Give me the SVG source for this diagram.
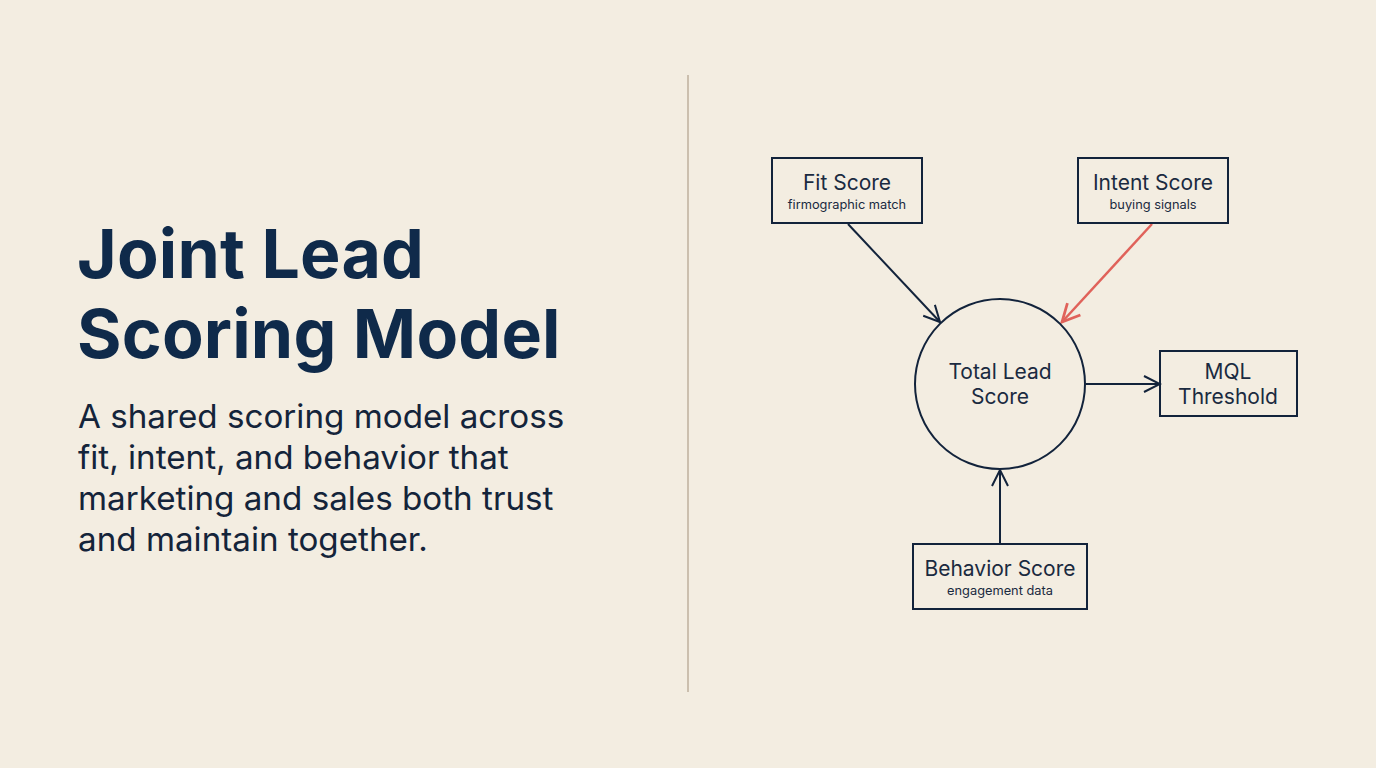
<svg xmlns="http://www.w3.org/2000/svg" width="1376" height="768" viewBox="0 0 1376 768">
<defs>
<style>
.title{font-family:Inter,"Noto Sans",sans-serif;font-weight:700;font-size:68px;fill:#0f2a4a;letter-spacing:0.2px}
.body{font-family:Inter,"Noto Sans",sans-serif;font-size:33.2px;fill:#14243a}
.box{fill:none;stroke:#12233b;stroke-width:2}
.lbl{font-family:Inter,"Noto Sans",sans-serif;font-size:21px;fill:#1a2a40;text-anchor:middle}
.sub{font-family:Inter,"Noto Sans",sans-serif;font-size:12.8px;fill:#1a2a40;text-anchor:middle}
.conn{fill:none;stroke:#12233b;stroke-width:2}
.red{stroke:#e0625a;stroke-width:2.5}
</style>
<marker id="ah" viewBox="0 0 20 20" refX="18" refY="10" markerWidth="20" markerHeight="20" markerUnits="userSpaceOnUse" orient="auto">
<path d="M2,2 L18,10 L2,18" fill="none" stroke="#12233b" stroke-width="2"/>
</marker>
<marker id="ahr" viewBox="0 0 20 20" refX="18" refY="10" markerWidth="22" markerHeight="22" markerUnits="userSpaceOnUse" orient="auto">
<path d="M2,2 L18,10 L2,18" fill="none" stroke="#e0625a" stroke-width="2.5"/>
</marker>
</defs>
<rect width="1376" height="768" fill="#f3ede1"/>
<line x1="688" y1="75" x2="688" y2="692" stroke="#cbbfae" stroke-width="2"/>
<g id="title">
<text class="title" x="77" y="278">Joint Lead</text>
<text class="title" x="77" y="358">Scoring Model</text>
</g>
<g id="description">
<text class="body" x="78" y="428">A shared scoring model across</text>
<text class="body" x="78" y="469">fit, intent, and behavior that</text>
<text class="body" x="78" y="510">marketing and sales both trust</text>
<text class="body" x="78" y="551">and maintain together.</text>
</g>
<g id="connectors">
<line class="conn" x1="848" y1="224" x2="940" y2="322" marker-end="url(#ah)"/>
<line class="conn red" x1="1152" y1="224" x2="1062" y2="322" marker-end="url(#ahr)"/>
<line class="conn" x1="1086" y1="384" x2="1160" y2="384" marker-end="url(#ah)"/>
<line class="conn" x1="1000" y1="544" x2="1000" y2="470" marker-end="url(#ah)"/>
</g>
<g id="fit-score">
<rect class="box" x="772" y="158" width="150" height="65"/>
<text class="lbl" x="847" y="190">Fit Score</text>
<text class="sub" x="847" y="209">firmographic match</text>
</g>
<g id="intent-score">
<rect class="box" x="1078" y="158" width="150" height="65"/>
<text class="lbl" x="1153" y="190">Intent Score</text>
<text class="sub" x="1153" y="209">buying signals</text>
</g>
<g id="total-lead-score">
<circle class="box" cx="1000" cy="384" r="85"/>
<text class="lbl" x="1000" y="379">Total Lead</text>
<text class="lbl" x="1000" y="404">Score</text>
</g>
<g id="mql-threshold">
<rect class="box" x="1160" y="351" width="137" height="65"/>
<text class="lbl" x="1228" y="379">MQL</text>
<text class="lbl" x="1228" y="404">Threshold</text>
</g>
<g id="behavior-score">
<rect class="box" x="913" y="544" width="174" height="65"/>
<text class="lbl" x="1000" y="576">Behavior Score</text>
<text class="sub" x="1000" y="595">engagement data</text>
</g>
</svg>
